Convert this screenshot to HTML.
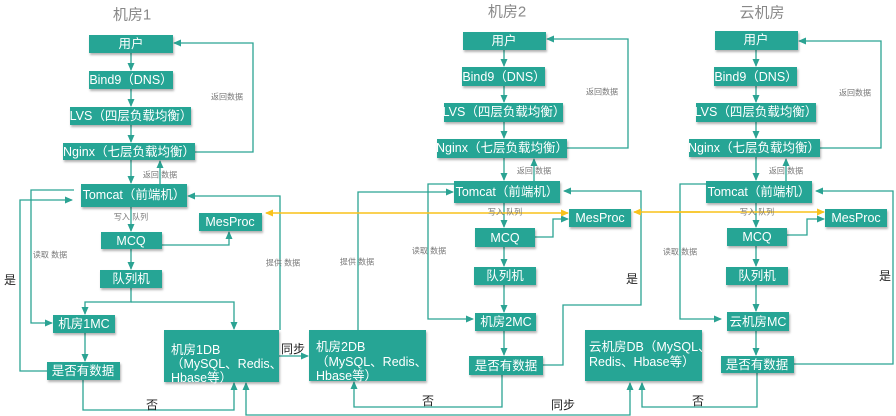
<!DOCTYPE html>
<html><head><meta charset="utf-8"><style>
body{margin:0;background:#fff;}
svg{display:block;font-family:"Liberation Sans","Noto Sans CJK SC",sans-serif;}
.b{fill:#26a595;filter:url(#sh);}
.t{fill:#fff;font-size:12.5px;text-anchor:middle;dominant-baseline:central;}
.tl{fill:#fff;font-size:12.5px;dominant-baseline:central;}
.l{fill:none;stroke:#2ba393;stroke-width:1.3;}
.y{fill:none;stroke:#f8c21c;stroke-width:1.5;}
.s{fill:#777;font-size:8px;text-anchor:middle;dominant-baseline:central;}
.k{fill:#222;font-size:12px;text-anchor:middle;dominant-baseline:central;}
.h{fill:#888;font-size:15px;text-anchor:middle;dominant-baseline:central;}
</style></head><body>
<svg width="896" height="416" viewBox="0 0 896 416">
<defs>
<filter id="sh" x="-10%" y="-10%" width="130%" height="140%"><feDropShadow dx="1" dy="2" stdDeviation="1" flood-color="#000" flood-opacity="0.3"/></filter>
<marker id="a" markerWidth="8" markerHeight="8" refX="7" refY="4" orient="auto" markerUnits="userSpaceOnUse"><path d="M0,0.5 L8,4 L0,7.5z" fill="#2ba393"/></marker>
<marker id="ay" markerWidth="8" markerHeight="8" refX="7" refY="4" orient="auto" markerUnits="userSpaceOnUse"><path d="M0,0.5 L8,4 L0,7.5z" fill="#f8c21c"/></marker>
</defs>

<!-- titles -->
<text class="h" x="132" y="15">机房1</text>
<text class="h" x="507" y="12">机房2</text>
<text class="h" x="762" y="13">云机房</text>

<!-- ===== column 1 lines ===== -->
<path class="l" d="M131,53V70" marker-end="url(#a)"/>
<path class="l" d="M131,89V106" marker-end="url(#a)"/>
<path class="l" d="M131,125V142" marker-end="url(#a)"/>
<path class="l" d="M131,160V183" marker-end="url(#a)"/>
<path class="l" d="M160,184V161" marker-end="url(#a)"/>
<path class="l" d="M195,152H253V43H174" marker-end="url(#a)"/>
<path class="l" d="M131,207V231" marker-end="url(#a)"/>
<path class="l" d="M162,245H229V232" marker-end="url(#a)"/>
<path class="l" d="M131,249V269" marker-end="url(#a)"/>
<path class="l" d="M131,288V302H85V314" marker-end="url(#a)"/>
<path class="l" d="M131,302H234V329" marker-end="url(#a)"/>
<path class="l" d="M85,333V361" marker-end="url(#a)"/>
<path class="l" d="M83,380V410H234V383" marker-end="url(#a)"/>
<path class="l" d="M74,190H31V323H52" marker-end="url(#a)"/>
<path class="l" d="M47,371H20V200H72" marker-end="url(#a)"/>
<path class="l" d="M280,330V196H188" marker-end="url(#a)"/>
<path class="l" d="M279,356H308" marker-end="url(#a)"/>

<!-- ===== column 2 lines ===== -->
<path class="l" d="M504,50V66" marker-end="url(#a)"/>
<path class="l" d="M504,86V102" marker-end="url(#a)"/>
<path class="l" d="M504,122V138" marker-end="url(#a)"/>
<path class="l" d="M504,158V180" marker-end="url(#a)"/>
<path class="l" d="M534,181V159" marker-end="url(#a)"/>
<path class="l" d="M567,148H628V39H547" marker-end="url(#a)"/>
<path class="l" d="M504,203V227" marker-end="url(#a)"/>
<path class="l" d="M535,237H553V219H568" marker-end="url(#a)"/>
<path class="l" d="M504,247V266" marker-end="url(#a)"/>
<path class="l" d="M504,285V312" marker-end="url(#a)"/>
<path class="l" d="M504,331V355" marker-end="url(#a)"/>
<path class="l" d="M454,184H428V319H473" marker-end="url(#a)"/>
<path class="l" d="M358,330V192H453" marker-end="url(#a)"/>
<path class="l" d="M543,365H563V305H641V191H564" marker-end="url(#a)"/>
<path class="l" d="M502,375V407H354V382" marker-end="url(#a)"/>

<!-- ===== column 3 lines ===== -->
<path class="l" d="M756,50V66" marker-end="url(#a)"/>
<path class="l" d="M756,86V102" marker-end="url(#a)"/>
<path class="l" d="M756,122V138" marker-end="url(#a)"/>
<path class="l" d="M756,157V180" marker-end="url(#a)"/>
<path class="l" d="M786,181V159" marker-end="url(#a)"/>
<path class="l" d="M820,148H881V41H799" marker-end="url(#a)"/>
<path class="l" d="M756,203V227" marker-end="url(#a)"/>
<path class="l" d="M787,235H807V219H824" marker-end="url(#a)"/>
<path class="l" d="M756,246V266" marker-end="url(#a)"/>
<path class="l" d="M756,285V311" marker-end="url(#a)"/>
<path class="l" d="M756,331V355" marker-end="url(#a)"/>
<path class="l" d="M706,184H680V319H721" marker-end="url(#a)"/>
<path class="l" d="M794,364H893V191H816" marker-end="url(#a)"/>
<path class="l" d="M757,373V407H642V383" marker-end="url(#a)"/>
<path class="l" d="M630,390V415H246V383" marker-end="url(#a)"/>
<path class="l" d="M630,392V383" marker-end="url(#a)"/>

<!-- yellow -->
<path class="y" d="M330,213H266" marker-end="url(#ay)"/>
<path class="y" d="M300,213H568" marker-end="url(#ay)"/>
<path class="y" d="M700,212H634" marker-end="url(#ay)"/>
<path class="y" d="M660,212H824" marker-end="url(#ay)"/>

<!-- ===== boxes col 1 ===== -->
<rect class="b" x="89" y="35" width="84" height="18"/><text class="t" x="131" y="44">用户</text>
<rect class="b" x="89" y="71" width="84" height="18"/><text class="t" x="131" y="80">Bind9（DNS）</text>
<rect class="b" x="70" y="107" width="121" height="18"/><text class="t" x="131" y="116">LVS（四层负载均衡）</text>
<rect class="b" x="63" y="143" width="132" height="17"/><text class="t" x="129" y="152">Nginx（七层负载均衡）</text>
<rect class="b" x="81" y="184" width="106" height="23"/><text class="t" x="134" y="195">Tomcat（前端机）</text>
<rect class="b" x="199" y="213" width="63" height="18"/><text class="t" x="230" y="222">MesProc</text>
<rect class="b" x="101" y="232" width="61" height="17"/><text class="t" x="131" y="241">MCQ</text>
<rect class="b" x="100" y="270" width="62" height="18"/><text class="t" x="131" y="279">队列机</text>
<rect class="b" x="53" y="315" width="62" height="18"/><text class="t" x="84" y="324">机房1MC</text>
<rect class="b" x="47" y="362" width="73" height="18"/><text class="t" x="83" y="371">是否有数据</text>
<rect class="b" x="164" y="330" width="115" height="52"/>
<text class="tl" x="171" y="350">机房1DB</text><text class="tl" x="171" y="364">（MySQL、Redis、</text><text class="tl" x="171" y="378">Hbase等）</text>

<!-- ===== boxes col 2 ===== -->
<rect class="b" x="463" y="32" width="83" height="18"/><text class="t" x="504" y="41">用户</text>
<rect class="b" x="462" y="67" width="83" height="19"/><text class="t" x="504" y="77">Bind9（DNS）</text>
<rect class="b" x="444" y="103" width="119" height="19"/><text class="t" x="504" y="112">LVS（四层负载均衡）</text>
<rect class="b" x="437" y="139" width="130" height="19"/><text class="t" x="502" y="148">Nginx（七层负载均衡）</text>
<rect class="b" x="454" y="181" width="106" height="22"/><text class="t" x="507" y="192">Tomcat（前端机）</text>
<rect class="b" x="569" y="209" width="62" height="18"/><text class="t" x="600" y="218">MesProc</text>
<rect class="b" x="475" y="228" width="60" height="19"/><text class="t" x="505" y="238">MCQ</text>
<rect class="b" x="474" y="267" width="62" height="18"/><text class="t" x="505" y="276">队列机</text>
<rect class="b" x="475" y="313" width="61" height="18"/><text class="t" x="506" y="322">机房2MC</text>
<rect class="b" x="469" y="356" width="74" height="19"/><text class="t" x="506" y="366">是否有数据</text>
<rect class="b" x="309" y="330" width="117" height="51"/>
<text class="tl" x="316" y="347">机房2DB</text><text class="tl" x="316" y="362">（MySQL、Redis、</text><text class="tl" x="316" y="376">Hbase等）</text>

<!-- ===== boxes col 3 ===== -->
<rect class="b" x="715" y="31" width="83" height="19"/><text class="t" x="756" y="40">用户</text>
<rect class="b" x="714" y="67" width="83" height="19"/><text class="t" x="756" y="77">Bind9（DNS）</text>
<rect class="b" x="696" y="103" width="120" height="19"/><text class="t" x="756" y="112">LVS（四层负载均衡）</text>
<rect class="b" x="689" y="139" width="131" height="18"/><text class="t" x="754" y="148">Nginx（七层负载均衡）</text>
<rect class="b" x="706" y="181" width="106" height="22"/><text class="t" x="759" y="192">Tomcat（前端机）</text>
<rect class="b" x="825" y="209" width="62" height="18"/><text class="t" x="856" y="218">MesProc</text>
<rect class="b" x="727" y="228" width="60" height="18"/><text class="t" x="757" y="237">MCQ</text>
<rect class="b" x="726" y="267" width="62" height="18"/><text class="t" x="757" y="276">队列机</text>
<rect class="b" x="727" y="312" width="62" height="19"/><text class="t" x="758" y="322">云机房MC</text>
<rect class="b" x="721" y="356" width="73" height="17"/><text class="t" x="757" y="365">是否有数据</text>
<rect class="b" x="585" y="330" width="117" height="51"/>
<text class="tl" x="589" y="347">云机房DB（MySQL、</text><text class="tl" x="589" y="362">Redis、Hbase等）</text>

<!-- small labels -->
<text class="s" x="227" y="97">返回数据</text>
<text class="s" x="160" y="175">返回 数据</text>
<text class="s" x="131" y="217">写入 队列</text>
<text class="s" x="50" y="255">读取 数据</text>
<text class="s" x="283" y="263">提供 数据</text>
<text class="s" x="602" y="92">返回数据</text>
<text class="s" x="534" y="171">返回 数据</text>
<text class="s" x="505" y="212">写入 队列</text>
<text class="s" x="429" y="251">读取 数据</text>
<text class="s" x="357" y="262">提供 数据</text>
<text class="s" x="855" y="93">返回数据</text>
<text class="s" x="786" y="171">返回 数据</text>
<text class="s" x="757" y="212">写入 队列</text>
<text class="s" x="680" y="252">读取 数据</text>

<text class="k" x="10" y="280">是</text>
<text class="k" x="152" y="405">否</text>
<text class="k" x="293" y="349">同步</text>
<text class="k" x="632" y="279">是</text>
<text class="k" x="428" y="401">否</text>
<text class="k" x="563" y="405">同步</text>
<text class="k" x="885" y="276">是</text>
<text class="k" x="698" y="401">否</text>
</svg>
</body></html>
